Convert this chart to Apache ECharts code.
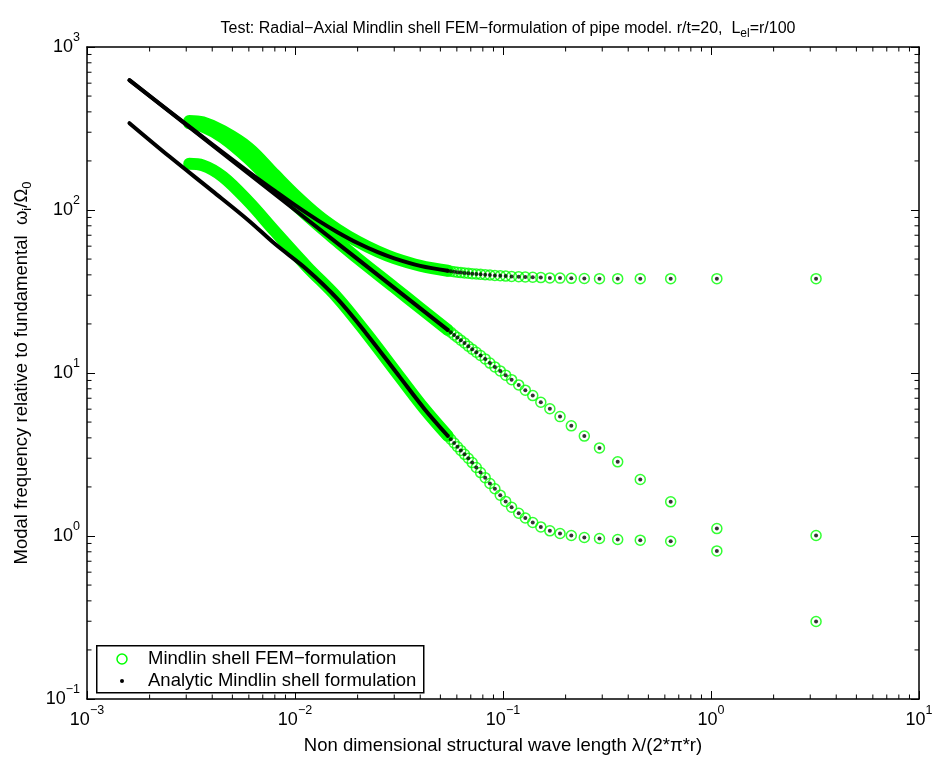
<!DOCTYPE html>
<html><head><meta charset="utf-8">
<script src="https://cdn.jsdelivr.net/npm/echarts@6/dist/echarts.min.js"></script>
<style>html,body{margin:0;padding:0;background:#fff}#c{width:936px;height:760px}</style>
</head><body><div id="c"></div>
<script>
// ---- data ----
// wave lengths (x) of the discrete modes, longest first
const sparseX = [3.2, 1.067, 0.64, 0.457, 0.356, 0.291, 0.246, 0.213, 0.188, 0.168, 0.152, 0.139, 0.128, 0.119, 0.110, 0.103, 0.0970, 0.0914, 0.0865, 0.0821, 0.0780, 0.0744, 0.0711, 0.0681, 0.0653, 0.0627, 0.0604, 0.0582, 0.0561, 0.0542];
const upperY  = [37.9, 37.9, 37.9, 37.9, 37.9, 37.9, 38.0, 38.1, 38.2, 38.3, 38.5, 38.7, 38.8, 39.0, 39.1, 39.3, 39.5, 39.7, 39.9, 40.1, 40.3, 40.5, 40.7, 40.9, 41.1, 41.3, 41.5, 41.8, 42.1, 42.4];
const middleY = [1.007, 1.11, 1.62, 2.22, 2.85, 3.47, 4.1, 4.74, 5.4, 6.03, 6.62, 7.27, 7.85, 8.45, 9.1, 9.7, 10.3, 10.9, 11.5, 12.2, 12.8, 13.4, 14.0, 14.6, 15.3, 15.9, 16.5, 17.1, 17.8, 18.4];
const lowerY  = [0.299, 0.81, 0.929, 0.943, 0.952, 0.966, 0.979, 1.007, 1.036, 1.076, 1.137, 1.21, 1.29, 1.38, 1.50, 1.63, 1.78, 1.95, 2.10, 2.28, 2.45, 2.63, 2.82, 3.00, 3.17, 3.35, 3.53, 3.72, 3.92, 4.12];
// dense (short wave length) parts, where the markers merge into a band
const analyticUpperDense  = [[0.0016,626],[0.0025,402],[0.004,253],[0.006,171],[0.008,131],[0.01,107],[0.013,85.7],[0.016,73.1],[0.02,62.7],[0.025,55.1],[0.03,50.5],[0.04,45.4],[0.0542,42.4]];
const analyticMiddleDense = [[0.0016,625],[0.01,100],[0.0542,18.4]];
const analyticLowerDense  = [[0.0016,341],[0.0025,212],[0.004,131],[0.006,86],[0.008,62],[0.0114,43.2],[0.016,28.5],[0.022,17.5],[0.032,9.4],[0.042,6.0],[0.0542,4.12]];
const femUpperDense  = [[0.0031,352],[0.0036,345],[0.0045,305],[0.006,240],[0.008,165],[0.01,124],[0.013,92],[0.016,76],[0.02,64],[0.025,55.6],[0.03,50.7],[0.04,45.5],[0.0542,42.4]];
const femMiddleDense = [[0.0031,340],[0.0036,325],[0.0045,278],[0.006,205],[0.008,142],[0.01,108],[0.013,80],[0.016,64],[0.02,50.5],[0.03,33.5],[0.04,25.0],[0.0542,18.4]];
const femLowerDense  = [[0.0031,192],[0.0036,188],[0.0045,160],[0.006,112],[0.008,74],[0.0114,45],[0.016,29],[0.022,17.6],[0.032,9.4],[0.042,6.0],[0.0542,4.12]];
const xDecades = [0.001, 0.01, 0.1, 1, 10];
const yDecades = [0.1, 1, 10, 100, 1000];
const legendNames = ['Mindlin shell FEM\u2212formulation', 'Analytic Mindlin shell formulation'];

// ---- chart ----
const FONT = "'Liberation Sans', Arial, Helvetica, sans-serif";
const GREEN = '#00ff00';
const zip = (xs, ys) => xs.map((x, i) => [x, ys[i]]);
const sparsePts = [].concat(zip(sparseX, upperY), zip(sparseX, middleY), zip(sparseX, lowerY));
function minorOf(decs) { const out = []; for (let i = 0; i < decs.length - 1; i++) for (let k = 2; k <= 9; k++) out.push(decs[i] * k); return out; }
const xMinor = minorOf(xDecades), yMinor = minorOf(yDecades);
const XMIN = xDecades[0], XMAX = xDecades[xDecades.length - 1], YMIN = yDecades[0], YMAX = yDecades[yDecades.length - 1];

const expLabel = v => '{b|10}{sup|' + String(Math.round(Math.log10(v))).replace('-', '\u2212') + '}';
const labelRich = { b: { fontSize: 18, fontFamily: FONT, color: '#000' }, sup: { fontSize: 12.5, fontFamily: FONT, color: '#000', padding: [0, 0, 19, 0] } };

function axisBase(pos, show) {
  return {
    type: 'log', logBase: 10, position: pos,
    axisLine: { show: true, onZero: false, lineStyle: { color: '#000', width: 1.5 } },
    axisTick: { show: true, inside: true, length: 8, lineStyle: { color: '#000', width: 1 } },
    splitLine: { show: false }, minorTick: { show: false },
    axisLabel: show ? { show: true, formatter: expLabel, rich: labelRich, color: '#000' } : { show: false }
  };
}
const denseLine = (data, color, w, z) => ({ type: 'line', data, smooth: 0.35, showSymbol: false, symbol: 'none', silent: true, z,
  lineStyle: { color, width: w, cap: 'round', join: 'round' }, clip: true });

const chart = echarts.init(document.getElementById('c'), null, { renderer: 'canvas' });
chart.setOption({
  animation: false,
  backgroundColor: '#fff',
  title: {
    text: 'Test: Radial\u2212Axial Mindlin shell FEM\u2212formulation of pipe model. r/t=20,  L{sub|el}=r/100',
    left: 503, top: 12, textAlign: 'center',
    textStyle: { fontSize: 16, fontWeight: 'normal', fontFamily: FONT, color: '#000',
      rich: { sub: { fontSize: 12, fontFamily: FONT, color: '#000', padding: [11, 0, 0, 0] } } }
  },
  grid: { left: 87, right: 17, top: 47, bottom: 59 },
  xAxis: [
    Object.assign(axisBase('bottom', true), { min: XMIN, max: XMAX,
      name: 'Non dimensional structural wave length \u03bb/(2*\u03c0*r)', nameLocation: 'middle', nameGap: 37,
      nameTextStyle: { fontSize: 18.5, fontFamily: FONT, color: '#000' },
      axisLabel: { show: true, formatter: expLabel, rich: labelRich, margin: 5 } }),
    Object.assign(axisBase('top', false), { min: XMIN, max: XMAX })
  ],
  yAxis: [
    Object.assign(axisBase('left', true), { min: YMIN, max: YMAX,
      name: 'Modal frequency relative to fundamental  \u03c9{sub|i}/\u03a9{sub|0}', nameLocation: 'middle', nameRotate: 90, nameGap: 53,
      nameTextStyle: { fontSize: 18.5, fontFamily: FONT, color: '#000',
        rich: { sub: { fontSize: 13, fontFamily: FONT, color: '#000', padding: [12, 0, 0, 0] } } },
      axisLabel: { show: true, formatter: expLabel, rich: labelRich, margin: 7 } }),
    Object.assign(axisBase('right', false), { min: YMIN, max: YMAX })
  ],
  series: [
    denseLine(femUpperDense, GREEN, 12, 1),
    denseLine(femMiddleDense, GREEN, 12, 1),
    denseLine(femLowerDense, GREEN, 12, 1),
    { type: 'scatter', name: legendNames[0], data: sparsePts, symbol: 'circle', symbolSize: 10, z: 2, silent: true,
      itemStyle: { color: 'rgba(0,0,0,0)', borderColor: GREEN, borderWidth: 1.5 } },
    denseLine(analyticUpperDense, '#000', 4, 3),
    denseLine(analyticMiddleDense, '#000', 4, 3),
    denseLine(analyticLowerDense, '#000', 4, 3),
    { type: 'scatter', name: legendNames[1], data: sparsePts, symbol: 'circle', symbolSize: 4, z: 4, silent: true,
      itemStyle: { color: '#000' } },
    { type: 'custom', silent: true, z: 5, clip: false, data: xMinor.map(v => [v, 1]),
      renderItem: (p, api) => {
        const b = api.coord([api.value(0), YMIN]), t = api.coord([api.value(0), YMAX]);
        return { type: 'group', children: [
          { type: 'line', shape: { x1: b[0], y1: b[1], x2: b[0], y2: b[1] - 4.5 }, style: { stroke: '#000', lineWidth: 1 } },
          { type: 'line', shape: { x1: t[0], y1: t[1], x2: t[0], y2: t[1] + 4.5 }, style: { stroke: '#000', lineWidth: 1 } } ] };
      } },
    { type: 'custom', silent: true, z: 5, clip: false, data: yMinor.map(v => [1, v]),
      renderItem: (p, api) => {
        const l = api.coord([XMIN, api.value(1)]), r = api.coord([XMAX, api.value(1)]);
        return { type: 'group', children: [
          { type: 'line', shape: { x1: l[0], y1: l[1], x2: l[0] + 4.5, y2: l[1] }, style: { stroke: '#000', lineWidth: 1 } },
          { type: 'line', shape: { x1: r[0], y1: r[1], x2: r[0] - 4.5, y2: r[1] }, style: { stroke: '#000', lineWidth: 1 } } ] };
      } }
  ],
  graphic: [
    { type: 'rect', left: 96, top: 645, z: 100, shape: { width: 327, height: 47 }, style: { fill: '#fff', stroke: '#000', lineWidth: 1.5 } },
    { type: 'circle', z: 101, shape: { cx: 122, cy: 659, r: 5 }, style: { fill: 'none', stroke: GREEN, lineWidth: 1.5 } },
    { type: 'circle', z: 101, shape: { cx: 122, cy: 681, r: 2 }, style: { fill: '#000' } },
    { type: 'text', z: 101, x: 148, y: 659, style: { text: legendNames[0], font: '18.5px ' + FONT, fill: '#000', textVerticalAlign: 'middle', verticalAlign: 'middle' } },
    { type: 'text', z: 101, x: 148, y: 681, style: { text: legendNames[1], font: '18.5px ' + FONT, fill: '#000', textVerticalAlign: 'middle', verticalAlign: 'middle' } }
  ]
});
</script></body></html>
